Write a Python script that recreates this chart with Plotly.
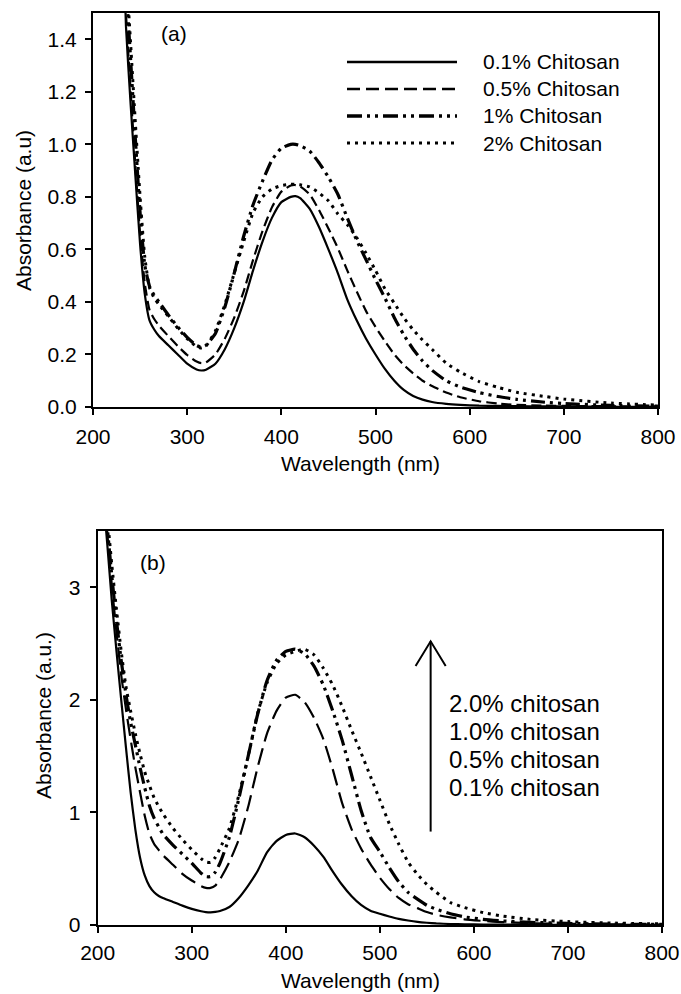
import plotly.graph_objects as go

# ---------------- Panel (a) data ----------------
wl_a = [230, 235, 240, 245, 250, 255, 260, 265, 270, 280, 290, 300, 310, 315, 320, 330, 340, 350,
        360, 370, 380, 390, 400, 410, 415, 420, 430, 440, 450, 460, 470, 480, 490, 500, 510, 520,
        530, 540, 550, 560, 575, 590, 610, 630, 650, 680, 700, 750, 800]
a_01 = [2.0, 1.45, 1.15, 0.88, 0.62, 0.43, 0.33, 0.295, 0.27, 0.235, 0.2, 0.165, 0.143, 0.139, 0.142,
        0.165, 0.22, 0.3, 0.4, 0.52, 0.63, 0.72, 0.78, 0.8, 0.803, 0.795, 0.755, 0.685, 0.6, 0.51,
        0.41, 0.33, 0.26, 0.2, 0.145, 0.1, 0.065, 0.042, 0.028, 0.019, 0.012, 0.008, 0.005, 0.004,
        0.003, 0.002, 0.002, 0.001, 0.001]
a_05 = [2.0, 1.5, 1.2, 0.92, 0.66, 0.47, 0.37, 0.335, 0.31, 0.27, 0.232, 0.198, 0.173, 0.167, 0.17,
        0.2, 0.26, 0.34, 0.44, 0.56, 0.67, 0.76, 0.82, 0.843, 0.845, 0.84, 0.81, 0.75, 0.68, 0.605,
        0.52, 0.44, 0.365, 0.305, 0.25, 0.2, 0.16, 0.128, 0.1, 0.08, 0.055, 0.037, 0.022, 0.013,
        0.008, 0.005, 0.004, 0.003, 0.002]
a_1 = [2.1, 1.62, 1.32, 1.02, 0.74, 0.54, 0.46, 0.425, 0.4, 0.35, 0.305, 0.265, 0.234, 0.228, 0.235,
       0.28, 0.38, 0.51, 0.65, 0.77, 0.86, 0.94, 0.985, 1.0, 1.0, 0.995, 0.975, 0.93, 0.875, 0.81,
       0.72, 0.635, 0.56, 0.485, 0.415, 0.34, 0.275, 0.22, 0.175, 0.14, 0.1, 0.076, 0.055, 0.04,
       0.029, 0.018, 0.013, 0.006, 0.003]
a_2 = [2.1, 1.68, 1.38, 1.08, 0.8, 0.57, 0.455, 0.415, 0.39, 0.345, 0.3, 0.26, 0.23, 0.225, 0.232,
       0.29, 0.39, 0.51, 0.63, 0.74, 0.8, 0.83, 0.843, 0.848, 0.848, 0.846, 0.838, 0.815, 0.785, 0.735,
       0.695, 0.645, 0.585, 0.52, 0.45, 0.395, 0.34, 0.294, 0.255, 0.22, 0.167, 0.133, 0.097, 0.075,
       0.056, 0.04, 0.03, 0.015, 0.007]

# ---------------- Panel (b) data ----------------
wl_b = [205, 210, 215, 220, 225, 230, 235, 240, 245, 250, 255, 260, 265, 270, 280, 290, 300, 310,
        315, 320, 325, 330, 340, 350, 360, 370, 380, 390, 400, 410, 420, 430, 440, 450, 460, 470,
        480, 490, 500, 510, 520, 530, 540, 550, 560, 575, 590, 610, 630, 660, 700, 750, 800]
b_01 = [3.9, 3.4, 2.88, 2.43, 2.0, 1.58, 1.18, 0.85, 0.6, 0.44, 0.345, 0.29, 0.258, 0.238, 0.205,
        0.172, 0.143, 0.122, 0.115, 0.113, 0.116, 0.125, 0.16, 0.24, 0.35, 0.48, 0.645, 0.745, 0.8,
        0.813, 0.78, 0.705, 0.605, 0.475, 0.355, 0.255, 0.178, 0.127, 0.1, 0.076, 0.055, 0.04,
        0.028, 0.02, 0.014, 0.009, 0.006, 0.004, 0.003, 0.002, 0.002, 0.001, 0.001]
b_05 = [3.95, 3.5, 3.02, 2.6, 2.22, 1.92, 1.65, 1.4, 1.18, 0.97, 0.81, 0.72, 0.665, 0.615, 0.535,
        0.455, 0.395, 0.345, 0.33, 0.33, 0.35, 0.405, 0.56, 0.76, 1.05, 1.4, 1.7, 1.9, 2.02, 2.045,
        1.98, 1.84, 1.65, 1.38, 1.08, 0.85, 0.68, 0.54, 0.42, 0.32, 0.24, 0.185, 0.15, 0.115, 0.09,
        0.068, 0.05, 0.036, 0.026, 0.016, 0.01, 0.006, 0.004]
b_1 = [4.0, 3.55, 3.1, 2.7, 2.35, 2.05, 1.8, 1.6, 1.4, 1.22, 1.06, 0.95, 0.87, 0.8, 0.71, 0.63, 0.55,
       0.46, 0.43, 0.43, 0.47, 0.55, 0.78, 1.12, 1.5, 1.87, 2.17, 2.35, 2.43, 2.45, 2.41, 2.3, 2.13,
       1.9, 1.64, 1.33, 1.02, 0.78, 0.65, 0.51, 0.385, 0.29, 0.23, 0.175, 0.14, 0.1, 0.072, 0.05,
       0.036, 0.024, 0.014, 0.008, 0.005]
b_2 = [4.1, 3.65, 3.2, 2.8, 2.43, 2.12, 1.9, 1.7, 1.52, 1.36, 1.24, 1.13, 1.05, 0.98, 0.86, 0.76,
       0.67, 0.59, 0.56, 0.555, 0.6, 0.68, 0.86, 1.15, 1.5, 1.88, 2.15, 2.32, 2.4, 2.43, 2.45, 2.4,
       2.28, 2.13, 1.94, 1.73, 1.53, 1.32, 1.11, 0.9, 0.72, 0.56, 0.45, 0.36, 0.29, 0.2, 0.155, 0.11,
       0.08, 0.05, 0.03, 0.017, 0.01]

legend_a = ["0.1% Chitosan", "0.5% Chitosan", "1% Chitosan", "2% Chitosan"]
labels_b = ["2.0% chitosan", "1.0% chitosan", "0.5% chitosan", "0.1% chitosan"]
x_title = "Wavelength (nm)"
y_title_a = "Absorbance (a.u)"
y_title_b = "Absorbance (a.u.)"

FONT = "Liberation Sans, Arial, sans-serif"
W, H = 681, 994

styles_a = [
    dict(width=2.2, dash="solid"),
    dict(width=2.2, dash="10px,5px"),
    dict(width=3.2, dash="14px,5px,3px,5px,3px,5px"),
    dict(width=3, dash="3px,5px"),
]
styles_b = [
    dict(width=2.2, dash="solid"),
    dict(width=2.2, dash="17px,7px"),
    dict(width=3.2, dash="16px,5px,3px,5px,3px,5px"),
    dict(width=3, dash="3px,5px"),
]

fig = go.Figure()
for ys, st in zip([a_01, a_05, a_1, a_2], styles_a):
    fig.add_trace(go.Scatter(x=wl_a, y=ys, mode="lines", xaxis="x", yaxis="y",
                             line=dict(color="black", shape="spline", smoothing=0.5, **st),
                             showlegend=False, hoverinfo="skip"))
for ys, st in zip([b_01, b_05, b_1, b_2], styles_b):
    fig.add_trace(go.Scatter(x=wl_b, y=ys, mode="lines", xaxis="x2", yaxis="y2",
                             line=dict(color="black", shape="spline", smoothing=0.5, **st),
                             showlegend=False, hoverinfo="skip"))

def px_x(p):
    return p / W

def px_y(p):
    return 1 - p / H

axis_common = dict(showline=True, linecolor="black", linewidth=2, mirror=True,
                   ticks="outside", ticklen=6, tickwidth=1.5, tickcolor="black",
                   showgrid=False, zeroline=False, automargin=False,
                   tickfont=dict(family=FONT, size=21, color="black"))

fig.update_layout(
    width=W, height=H, margin=dict(l=0, r=0, t=0, b=0),
    paper_bgcolor="white", plot_bgcolor="white",
    xaxis=dict(domain=[px_x(93), px_x(658)], range=[200, 800], dtick=100, anchor="y",
               ticklabelstandoff=4, **axis_common),
    yaxis=dict(domain=[px_y(407), px_y(13)], range=[0, 1.5], tickvals=[0, 0.2, 0.4, 0.6, 0.8, 1.0, 1.2, 1.4],
               tickformat=".1f", anchor="x", ticklabelstandoff=4, **axis_common),
    xaxis2=dict(domain=[px_x(97.7), px_x(662)], range=[200, 800], dtick=100, anchor="y2",
                ticklabelstandoff=2, **axis_common),
    yaxis2=dict(domain=[px_y(925), px_y(531)], range=[0, 3.5], tickvals=[0, 1, 2, 3], anchor="x2",
                ticklabelstandoff=5, **axis_common),
)

def note(text, x, y, xanchor="center", size=21, angle=0):
    return dict(text=text, x=px_x(x), y=px_y(y), xref="paper", yref="paper", showarrow=False,
                xanchor=xanchor, yanchor="middle", textangle=angle,
                font=dict(family=FONT, size=size, color="black"))

annotations = [
    note("(a)", 174, 33),
    note("(b)", 153, 562),
    note(x_title, 360, 463),
    note(x_title, 360, 980),
    note(y_title_a, 23, 211, angle=-90),
    note(y_title_b, 43, 716, angle=-90),
]
shapes = []
# legend of panel (a)
leg_rows = [62, 89, 116, 143]
leg_styles = [dict(width=2.6, dash="solid"), dict(width=2.6, dash="13px,6px"),
              dict(width=3.6, dash="15px,5px,3px,5px,3px,5px"), dict(width=3, dash="3px,5px")]
for name, ry, st in zip(legend_a, leg_rows, leg_styles):
    shapes.append(dict(type="line", xref="paper", yref="paper", x0=px_x(347), x1=px_x(457),
                       y0=px_y(ry), y1=px_y(ry), line=dict(color="black", **st)))
    annotations.append(note(name, 481, ry, xanchor="left"))
# text block of panel (b)
for name, ry in zip(labels_b, [703, 731, 759, 787]):
    annotations.append(note(name, 447, ry, xanchor="left", size=24))
# arrow in panel (b)
shapes.append(dict(type="line", xref="x2", yref="y2", x0=554, x1=554, y0=0.83, y1=2.52,
                   line=dict(color="black", width=2)))
shapes.append(dict(type="path", xref="x2", yref="y2", path="M 538,2.30 L 554,2.52 L 570,2.30",
                   line=dict(color="black", width=2)))

fig.update_layout(annotations=annotations, shapes=shapes)
fig.write_html("out.html", config={"displayModeBar": False},
               post_script="document.body.style.margin='0px';document.body.style.overflow='hidden';")
